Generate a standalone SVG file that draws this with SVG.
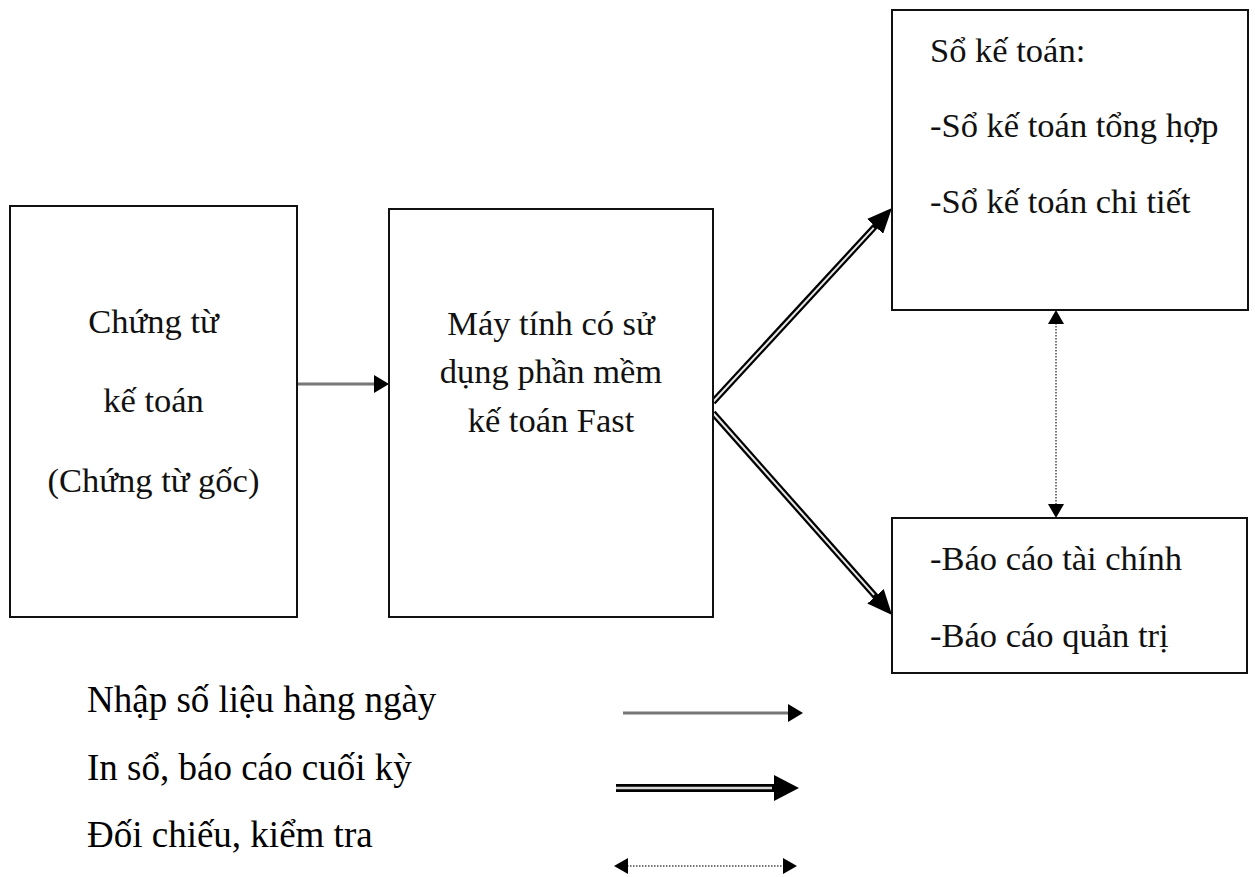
<svg xmlns="http://www.w3.org/2000/svg" width="1255" height="877" viewBox="0 0 1255 877">
<style>
  .box{fill:#fff;stroke:#111;stroke-width:2}
  .t{font-family:"Liberation Serif","Times New Roman",serif;font-size:34.5px;fill:#111}
  .c{text-anchor:middle}
  .lg{font-family:"Liberation Serif","Times New Roman",serif;font-size:37px;fill:#000}
  .sgl{stroke:#777;stroke-width:3;fill:none}
  .dblo{stroke:#000;stroke-width:6.5;fill:none}
  .dbli{stroke:#e8e8e8;stroke-width:2;fill:none}
  .dblo2{stroke:#000;stroke-width:8;fill:none}
  .dbli2{stroke:#d8d8d8;stroke-width:2.5;fill:none}
  .dot{stroke:#777;stroke-width:2;stroke-dasharray:1.5 1.5;fill:none}
</style>
<defs>
  <marker id="mS" viewBox="0 0 15 18" markerWidth="15" markerHeight="18" refX="1" refY="9" orient="auto" markerUnits="userSpaceOnUse">
    <path d="M0,0 L15,9 L0,18 z" fill="#000"/>
  </marker>
  <marker id="mD" viewBox="0 0 25 22" markerWidth="25" markerHeight="22" refX="2" refY="11" orient="auto" markerUnits="userSpaceOnUse">
    <path d="M0,0 L25,11 L0,22 z" fill="#000"/>
  </marker>
  <marker id="mD2" viewBox="0 0 25 26" markerWidth="25" markerHeight="26" refX="2" refY="13" orient="auto" markerUnits="userSpaceOnUse">
    <path d="M0,0 L25,13 L0,26 z" fill="#000"/>
  </marker>
  <marker id="mO" viewBox="0 0 14 16" markerWidth="14" markerHeight="16" refX="1" refY="8" orient="auto-start-reverse" markerUnits="userSpaceOnUse">
    <path d="M0,0 L14,8 L0,16 z" fill="#000"/>
  </marker>
</defs>
<rect width="1255" height="877" fill="#fff"/>

<g id="connectors">
  <line class="sgl" x1="297" y1="384" x2="375" y2="384" marker-end="url(#mS)"/>
  <line class="dblo" x1="713" y1="402" x2="876.4" y2="224.9" marker-end="url(#mD)"/>
  <line class="dbli" x1="713" y1="402" x2="873.7" y2="227.9"/>
  <line class="dblo" x1="713" y1="413" x2="876.8" y2="597.8" marker-end="url(#mD)"/>
  <line class="dbli" x1="713" y1="413" x2="874.1" y2="594.8"/>
  <line class="dot" x1="1056" y1="323" x2="1056" y2="505" marker-start="url(#mO)" marker-end="url(#mO)"/>
</g>

<g id="node-chung-tu">
  <rect class="box" x="10" y="206" width="287" height="411"/>
  <text class="t c" x="153.5" y="333">Chứng từ</text>
  <text class="t c" x="153.5" y="412">kế toán</text>
  <text class="t c" x="153.5" y="492">(Chứng từ gốc)</text>
</g>

<g id="node-may-tinh">
  <rect class="box" x="389" y="209" width="324" height="408"/>
  <text class="t c" x="551" y="335">Máy tính có sử</text>
  <text class="t c" x="551" y="383">dụng phần mềm</text>
  <text class="t c" x="551" y="432">kế toán Fast</text>
</g>

<g id="node-so-ke-toan">
  <rect class="box" x="892" y="10" width="356" height="300"/>
  <text class="t" x="930" y="62">Sổ kế toán:</text>
  <text class="t" x="930" y="137">-Sổ kế toán tổng hợp</text>
  <text class="t" x="930" y="213">-Sổ kế toán chi tiết</text>
</g>

<g id="node-bao-cao">
  <rect class="box" x="892" y="518" width="355" height="155"/>
  <text class="t" x="930" y="570">-Báo cáo tài chính</text>
  <text class="t" x="930" y="647">-Báo cáo quản trị</text>
</g>

<g id="legend">
  <text class="lg" x="87" y="712">Nhập số liệu hàng ngày</text>
  <text class="lg" x="87" y="780">In sổ, báo cáo cuối kỳ</text>
  <text class="lg" x="87" y="847">Đối chiếu, kiểm tra</text>
  <line class="sgl" x1="623" y1="713" x2="789" y2="713" marker-end="url(#mS)"/>
  <line class="dblo2" x1="616" y1="788" x2="776" y2="788" marker-end="url(#mD2)"/>
  <line class="dbli2" x1="616" y1="788" x2="772" y2="788"/>
  <line class="dot" x1="627" y1="866" x2="784" y2="866" marker-start="url(#mO)" marker-end="url(#mO)"/>
</g>
</svg>
